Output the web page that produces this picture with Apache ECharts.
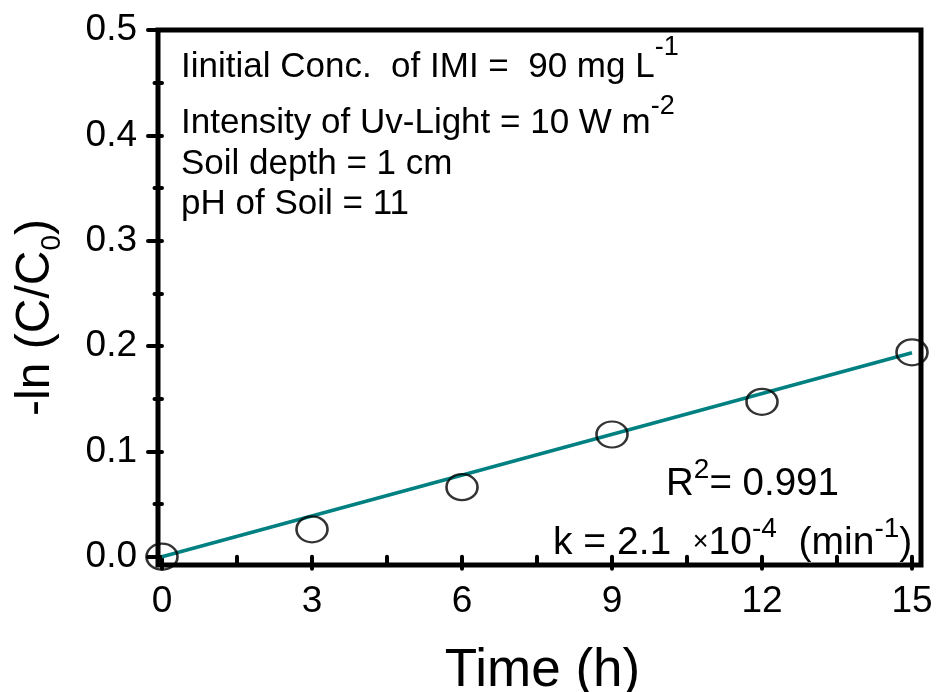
<!DOCTYPE html>
<html>
<head>
<meta charset="utf-8">
<title>-ln(C/C0) vs time</title>
<script src="https://cdn.jsdelivr.net/npm/echarts@6/dist/echarts.min.js"></script>
<style>
  html, body { margin: 0; padding: 0; background: #fff; }
  #chart { width: 939px; height: 692px; }
</style>
</head>
<body>
<div id="chart"></div>
<script>
// Measured points: irradiation time (h) and -ln(C/C0)
var timeH = [0, 3, 6, 9, 12, 15];
var lnRatio = [0, 0.026, 0.066, 0.116, 0.147, 0.194];

// End points of the first-order fit line
var fitTime = [0, 15];
var fitValue = [0, 0.1935];

// Axis tick values
var xMajor = [0, 3, 6, 9, 12, 15];
var xMinor = [1.5, 4.5, 7.5, 10.5, 13.5];
var yMajor = [0, 0.1, 0.2, 0.3, 0.4, 0.5];
var yMinor = [0.05, 0.15, 0.25, 0.35, 0.45];

var FONT = "'Liberation Sans', Arial, Helvetica, sans-serif";

var chart = echarts.init(document.getElementById('chart'), null, { renderer: 'canvas' });

function pairs(xs, ys) {
  return xs.map(function (x, i) { return [x, ys[i]]; });
}

var tickLine = { color: '#000', width: 4, cap: 'round' };

var option = {
  animation: false,
  backgroundColor: '#fff',
  textStyle: { fontFamily: FONT, color: '#000' },
  grid: {
    left: 158, right: 18, top: 30, bottom: 127,
    outerBoundsMode: 'none', containLabel: false,
    show: true, borderColor: '#000', borderWidth: 5,
    backgroundColor: 'transparent'
  },
  xAxis: [
    {
      type: 'value', position: 'bottom', min: -0.08, max: 15.18,
      axisLine: { show: false },
      splitLine: { show: false },
      axisTick: { show: true, inside: false, length: 12, customValues: xMajor, lineStyle: tickLine },
      axisLabel: {
        show: true, customValues: xMajor, margin: 18,
        fontSize: 37, color: '#000', fontFamily: FONT,
        formatter: function (v) { return String(v); }
      },
      name: 'Time (h)', nameLocation: 'middle', nameGap: 80,
      nameTextStyle: { fontSize: 53, color: '#000', fontFamily: FONT, padding: [0, 0, 0, 6] }
    },
    {
      type: 'value', position: 'bottom', min: -0.08, max: 15.18,
      axisLine: { show: false },
      splitLine: { show: false },
      axisLabel: { show: false },
      axisTick: { show: true, inside: false, length: 7.5, customValues: xMinor, lineStyle: tickLine }
    }
  ],
  yAxis: [
    {
      type: 'value', position: 'left', min: -0.0079, max: 0.5,
      axisLine: { show: false },
      splitLine: { show: false },
      axisTick: { show: true, inside: false, length: 14, customValues: yMajor, lineStyle: tickLine },
      axisLabel: {
        show: true, customValues: yMajor, margin: 21,
        fontSize: 37, color: '#000', fontFamily: FONT,
        formatter: function (v) { return v.toFixed(1); }
      },
      name: '{t|-ln (C/C}{b|0}{t|)}',
      nameLocation: 'middle', nameGap: 92, nameRotate: 90,
      nameTextStyle: {
        padding: [0, 40, 0, 0],
        rich: {
          t: { fontSize: 48, lineHeight: 60, color: '#000', fontFamily: FONT },
          b: { fontSize: 28, lineHeight: 28, verticalAlign: 'bottom', color: '#000', fontFamily: FONT }
        }
      }
    },
    {
      type: 'value', position: 'left', min: -0.0079, max: 0.5,
      axisLine: { show: false },
      splitLine: { show: false },
      axisLabel: { show: false },
      axisTick: { show: true, inside: false, length: 7.5, customValues: yMinor, lineStyle: tickLine }
    }
  ],
  series: [
    {
      name: 'fit', type: 'line', xAxisIndex: 0, yAxisIndex: 0,
      data: pairs(fitTime, fitValue),
      showSymbol: false, symbol: 'none',
      lineStyle: { color: '#008080', width: 3.6 },
      z: 2
    },
    {
      name: 'data', type: 'scatter', xAxisIndex: 0, yAxisIndex: 0,
      data: pairs(timeH, lnRatio),
      symbol: 'circle', symbolSize: [31, 26],
      itemStyle: { color: 'rgba(255,255,255,0)', borderColor: '#000', borderWidth: 2.4 },
      z: 3
    }
  ],
  graphic: [
    {
      type: 'text', x: 181, y: 67,
      style: {
        text: '{t|Iinitial Conc.  of IMI =  90 mg L}{s|-1}',
        verticalAlign: 'middle', align: 'left',
        rich: {
          t: { fontSize: 35, lineHeight: 66, fill: '#000', fontFamily: FONT },
          s: { fontSize: 27, lineHeight: 27, verticalAlign: 'top', fill: '#000', fontFamily: FONT }
        }
      }
    },
    {
      type: 'text', x: 181, y: 123,
      style: {
        text: '{t|Intensity of Uv-Light = 10 W m}{s|-2}',
        verticalAlign: 'middle', align: 'left',
        rich: {
          t: { fontSize: 35, lineHeight: 60, fill: '#000', fontFamily: FONT },
          s: { fontSize: 27, lineHeight: 27, verticalAlign: 'top', fill: '#000', fontFamily: FONT }
        }
      }
    },
    {
      type: 'text', x: 181, y: 164,
      style: { text: 'Soil depth = 1 cm', verticalAlign: 'middle', align: 'left', fontSize: 35, fill: '#000', fontFamily: FONT }
    },
    {
      type: 'text', x: 181, y: 204,
      style: { text: 'pH of Soil = 11', verticalAlign: 'middle', align: 'left', fontSize: 35, fill: '#000', fontFamily: FONT }
    },
    {
      type: 'text', x: 666, y: 484,
      style: {
        text: '{t|R}{s|2}{t|= 0.991}',
        verticalAlign: 'middle', align: 'left',
        rich: {
          t: { fontSize: 38.5, lineHeight: 56, fill: '#000', fontFamily: FONT },
          s: { fontSize: 28, lineHeight: 28, verticalAlign: 'top', fill: '#000', fontFamily: FONT }
        }
      }
    },
    {
      type: 'text', x: 553, y: 543,
      style: {
        text: '{t|k = 2.1  }{x|\u00d7}{t|10}{s|-4}{t|  (min}{s|-1}{t|)}',
        verticalAlign: 'middle', align: 'left',
        rich: {
          t: { fontSize: 39, lineHeight: 56, fill: '#000', fontFamily: FONT },
          x: { fontSize: 27, lineHeight: 56, fill: '#000', fontFamily: FONT },
          s: { fontSize: 28, lineHeight: 28, verticalAlign: 'top', fill: '#000', fontFamily: FONT }
        }
      }
    }
  ]
};

chart.setOption(option);
</script>
</body>
</html>
